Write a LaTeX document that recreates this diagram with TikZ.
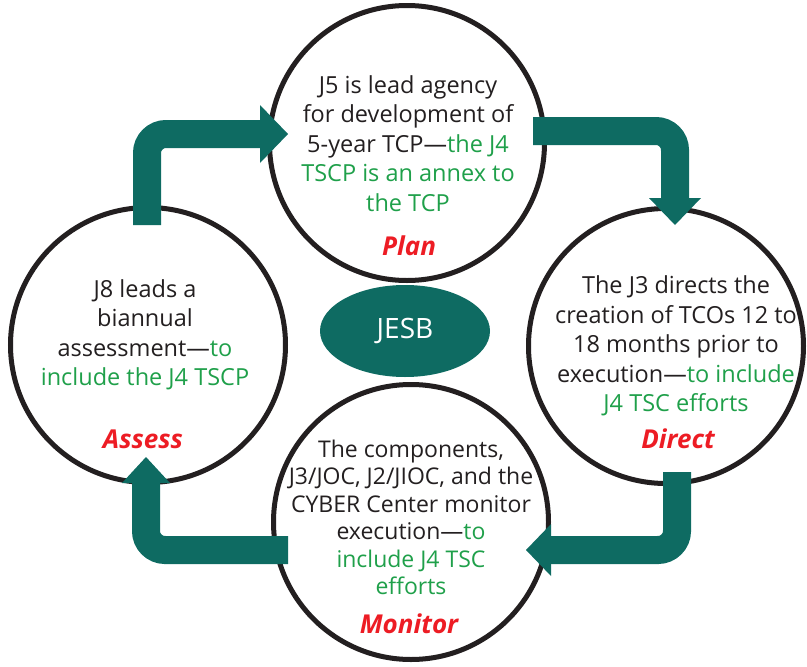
\documentclass[tikz,border=0pt]{standalone}
\usepackage{fontspec}
\setmainfont{Open Sans}
\usetikzlibrary{shapes.geometric}
\definecolor{jteal}{HTML}{0E6B62}
\definecolor{jgreen}{HTML}{1FA04A}
\definecolor{jred}{HTML}{ED1C24}
\definecolor{ink}{HTML}{231F20}
\begin{document}
\begin{tikzpicture}[x=1pt,y=-1pt,
  phase/.style={circle, draw=ink, line width=5pt, minimum size=275pt, inner sep=0pt, fill=white},
  body/.style={align=center, text=ink, inner sep=0pt, font=\fontsize{23.5}{29.5}\selectfont},
  smallbody/.style={body, font=\fontsize{23}{27.5}\selectfont},
  tag/.style={anchor=base, text=jred, inner sep=0pt, font=\fontsize{26}{30}\selectfont\bfseries\itshape},
  flow/.style={draw=jteal, line width=28pt, rounded corners=19pt},
  head/.style={fill=jteal}
]
\useasboundingbox (0,0) rectangle (807,667);

% phases
\node[phase] (plan) at (407,143) {};
\node[phase] (direct) at (666,346) {};
\node[phase] (monitor) at (411,522) {};
\node[phase] (assess) at (148,345) {};

\node[ellipse, fill=jteal, minimum width=170pt, minimum height=92pt, inner sep=0pt,
  text=white, font=\fontsize{28}{32}\selectfont] (jesb) at (405,331) {JESB};

% texts
\node[body] (plantext) at (408,143.5) {J5 is lead agency\\for development of\\5-year TCP—\textcolor{jgreen}{the J4}\\\textcolor{jgreen}{TSCP is an annex to}\\\textcolor{jgreen}{the TCP}};
\node[tag] (planlbl) at (409,255) {Plan};

\node[body] (directtext) at (676,346) {The J3 directs the\\creation of TCOs 12 to\\18 months prior to\\execution—\textcolor{jgreen}{to include}\\\textcolor{jgreen}{J4 TSC efforts}};
\node[tag] (directlbl) at (678,448) {Direct};

\node[smallbody] (monitortext) at (411,517.5) {The components,\\J3/JOC, J2/JIOC, and the\\CYBER Center monitor\\execution—\textcolor{jgreen}{to}\\\textcolor{jgreen}{include J4 TSC}\\\textcolor{jgreen}{efforts}};
\node[tag] (monitorlbl) at (409,633) {Monitor};

\node[body] (assesstext) at (145,335) {J8 leads a\\biannual\\assessment—\textcolor{jgreen}{to}\\\textcolor{jgreen}{include the J4 TSCP}};
\node[tag] (assesslbl) at (143,448) {Assess};

% arrow end points
\coordinate (a1s) at (147,225);
\coordinate (a1e) at (260,134);
\coordinate (a2s) at (533,131);
\coordinate (a2e) at (675,198);
\coordinate (a3s) at (677,472);
\coordinate (a3e) at (551,550);
\coordinate (a4s) at (288,550);
\coordinate (a4e) at (146,483);

% assess -> plan
\draw[flow] (a1s) |- (a1e);
\fill[head] (a1e) ++(0,-29) -- ++(28,29) -- ++(-28,29) -- cycle;
% plan -> direct
\draw[flow] (a2s) -| (a2e);
\fill[head] (a2e) ++(-26,0) -- ++(26,27) -- ++(26,-27) -- cycle;
% direct -> monitor
\draw[flow] (a3s) |- (a3e);
\fill[head] (a3e) ++(0,-26) -- ++(-25,26) -- ++(25,26) -- cycle;
% monitor -> assess
\draw[flow] (a4s) -| (a4e);
\fill[head] (a4e) ++(-24,0) -- ++(24,-26) -- ++(24,26) -- cycle;
\end{tikzpicture}
\end{document}
